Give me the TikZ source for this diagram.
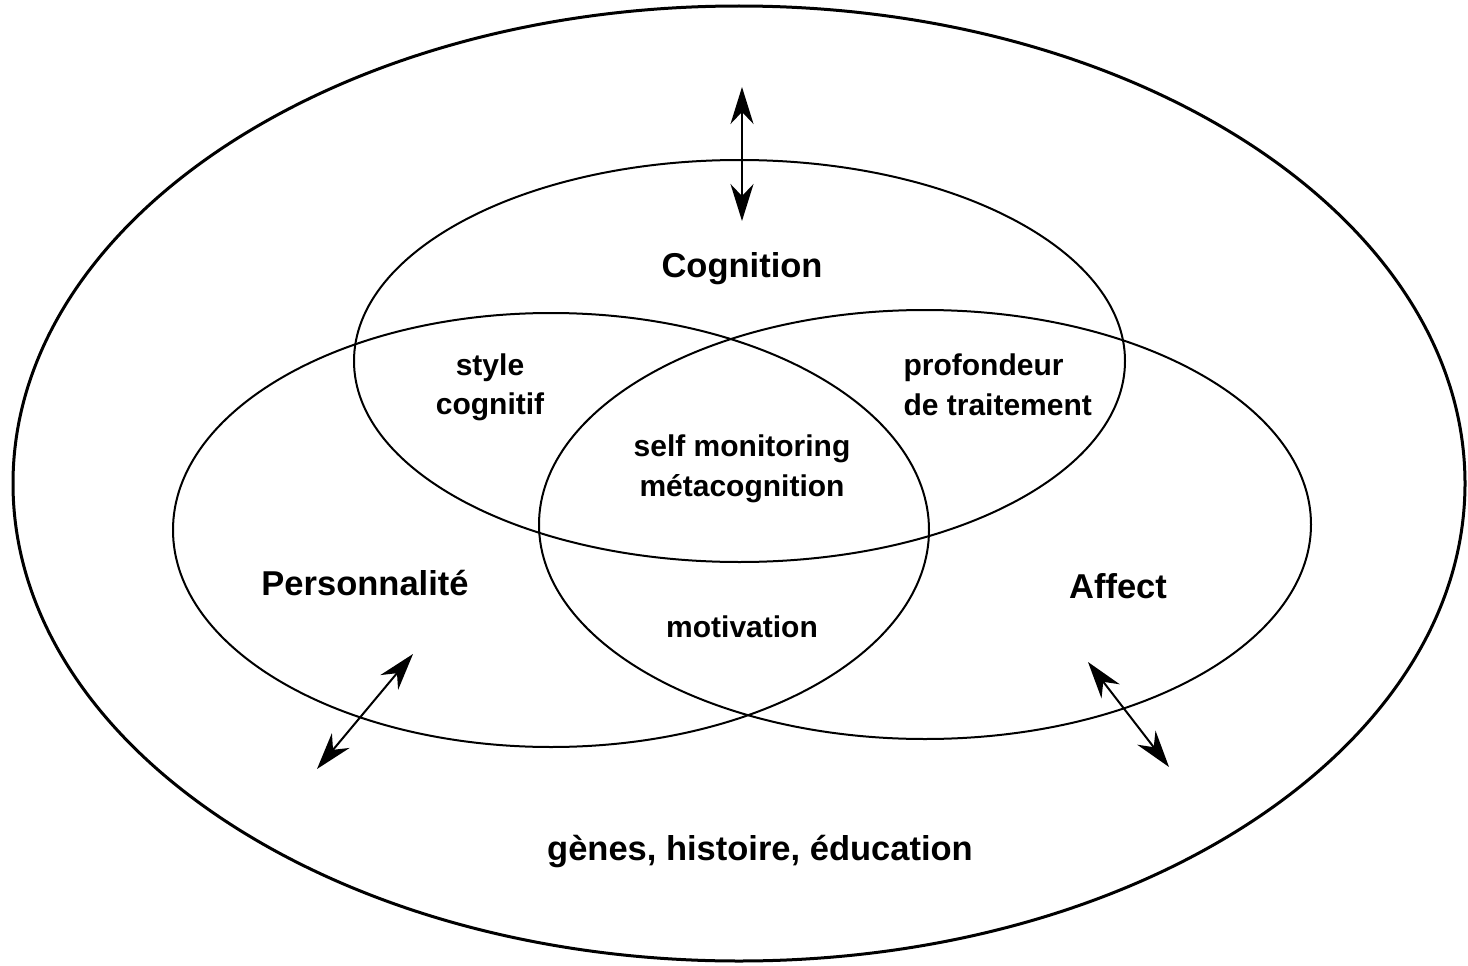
\documentclass[tikz,border=0pt]{standalone}
\usepackage{fontspec}
\setmainfont{Liberation Sans}
\usetikzlibrary{arrows.meta}

\tikzset{
    biglabel/.style={font=\fontsize{34.5}{40}\selectfont\bfseries, anchor=base},
    smalllabel/.style={font=\fontsize{30}{39.5}\selectfont\bfseries, anchor=base, align=center},
    twoway/.style={line width=2pt, {Stealth[length=37pt,width=23pt,inset=12pt]}-{Stealth[length=37pt,width=23pt,inset=12pt]}},
}

\begin{document}
\begin{tikzpicture}[x=1pt, y=-1pt]
    \useasboundingbox (0,0) rectangle (1468,966);
    \draw[line width=3pt] (739,483.5) ellipse [x radius=726, y radius=477.5];
    \draw[line width=2pt] (739.5,361) ellipse [x radius=385.5, y radius=201];
    \draw[line width=2pt] (551,530) ellipse [x radius=378, y radius=217];
    \draw[line width=2pt] (925,524.5) ellipse [x radius=386, y radius=214.5];

    \node[biglabel] (cognition) at (742,277) {Cognition};
    \node[biglabel] (personnalite) at (365,595) {Personnalité};
    \node[biglabel] (affect) at (1118,598) {Affect};
    \node[biglabel] (contexte) at (760,860) {gènes, histoire, éducation};

    \node[smalllabel] (style) at (490,414.5) {style\\cognitif};
    \node[smalllabel, align=left, anchor=base west] (profondeur) at (900,415) {profondeur\\de traitement};
    \node[smalllabel] (meta) at (742,496) {self monitoring\\métacognition};
    \node[smalllabel] (motivation) at (742,637) {motivation};

    \coordinate (cogTop) at (742,87);
    \coordinate (cogBot) at (742,221);
    \coordinate (persTop) at (413,654);
    \coordinate (persBot) at (317,769);
    \coordinate (affTop) at (1088,662);
    \coordinate (affBot) at (1169,767);
    \draw[twoway] (cogTop) -- (cogBot);
    \draw[twoway] (persTop) -- (persBot);
    \draw[twoway] (affTop) -- (affBot);
\end{tikzpicture}
\end{document}
